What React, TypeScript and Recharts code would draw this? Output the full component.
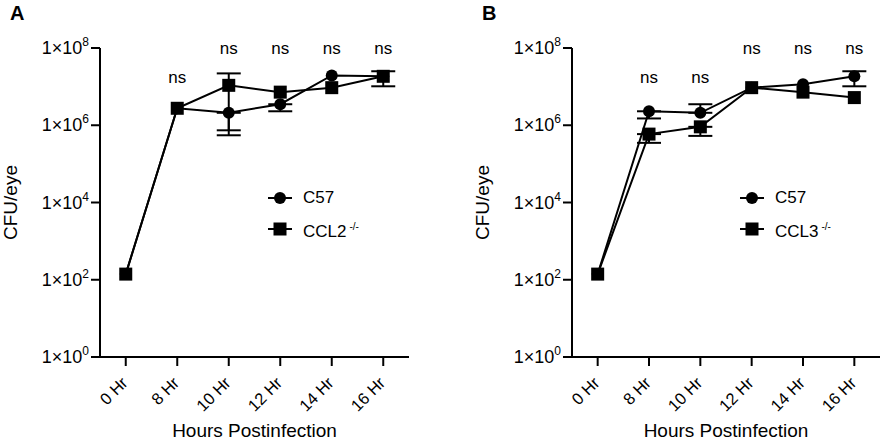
import React from "react";
import { LineChart, Line, XAxis, YAxis, ErrorBar, ReferenceDot } from "recharts";

const FONT = '"Liberation Sans", Arial, sans-serif';

const hours = ["0 Hr", "8 Hr", "10 Hr", "12 Hr", "14 Hr", "16 Hr"];
const yTicks = [1, 1e2, 1e4, 1e6, 1e8];

// Panel A: C57 vs CCL2-/-
const aC57 = [140, 2.75e6, 2.1e6, 3.5e6, 1.95e7, 1.85e7];
const aC57Lo = [null, null, 7.4e5, 2.3e6, null, null];
const aC57Hi = [null, null, 2.1e6, 3.5e6, null, null];
const aCCL2 = [140, 2.75e6, 1.08e7, 7.2e6, 9.4e6, 1.85e7];
const aCCL2Lo = [null, null, 5.5e5, null, null, 1.02e7];
const aCCL2Hi = [null, null, 2.2e7, null, null, 2.5e7];
const aNs = [null, 1.74e7, 1e8, 1e8, 1e8, 1e8];

// Panel B: C57 vs CCL3-/-
const bC57 = [140, 2.3e6, 2.1e6, 9.4e6, 1.15e7, 1.85e7];
const bC57Lo = [null, 1.5e6, 2.1e6, null, null, 1.02e7];
const bC57Hi = [null, 2.3e6, 3.5e6, null, null, 2.5e7];
const bCCL3 = [140, 5.9e5, 9.1e5, 9.4e6, 7.2e6, 5.2e6];
const bCCL3Lo = [null, 3.5e5, 5.3e5, null, null, null];
const bCCL3Hi = [null, 5.9e5, 9.1e5, null, null, null];
const bNs = [null, 1.74e7, 1.74e7, 1e8, 1e8, 1e8];

type Row = {
  i: number;
  c57: number;
  ko: number;
  c57Err: number[] | null;
  koErr: number[] | null;
};

function err(v: number, lo: number | null, hi: number | null) {
  if (lo == null || hi == null) return null;
  return [v - lo, hi - v];
}

function buildRows(
  c57: number[],
  c57Lo: (number | null)[],
  c57Hi: (number | null)[],
  ko: number[],
  koLo: (number | null)[],
  koHi: (number | null)[]
): Row[] {
  return hours.map((_, i) => ({
    i,
    c57: c57[i],
    ko: ko[i],
    c57Err: err(c57[i], c57Lo[i], c57Hi[i]),
    koErr: err(ko[i], koLo[i], koHi[i]),
  }));
}

const YTick = (props: any) => {
  const { x, y, payload } = props;
  const exp = Math.round(Math.log10(payload.value));
  return (
    <text x={x} y={y} dy={6} textAnchor="end" fontSize={18} fill="#000" fontFamily={FONT}>
      1×10
      <tspan dy={-8} fontSize={12}>
        {exp}
      </tspan>
    </text>
  );
};

const XTick = (props: any) => {
  const { x, y, payload } = props;
  const px = x + 3;
  const py = y + 16;
  return (
    <text
      x={px}
      y={py}
      textAnchor="end"
      transform={`rotate(-45 ${px} ${py})`}
      fontSize={16.5}
      fill="#000"
      fontFamily={FONT}
    >
      {hours[payload.value]}
    </text>
  );
};

const Circle = (props: any) => {
  const { cx, cy, index } = props;
  return <circle key={`c${index}`} cx={cx} cy={cy} r={6} fill="#000" />;
};

const Square = (props: any) => {
  const { cx, cy, index } = props;
  return <rect key={`s${index}`} x={cx - 6.5} y={cy - 6.5} width={13} height={13} fill="#000" />;
};

const LegendBox = ({ koName, left }: { koName: string; left: number }) => (
  <div
    style={{
      position: "absolute",
      left,
      top: 183,
      fontFamily: FONT,
      fontSize: 17,
      color: "#000",
      lineHeight: "29px",
    }}
  >
    <div style={{ display: "flex", alignItems: "center" }}>
      <svg width={24} height={14} style={{ marginRight: 11 }}>
        <line x1={0} y1={7} x2={24} y2={7} stroke="#000" strokeWidth={2} />
        <circle cx={12} cy={7} r={6} fill="#000" />
      </svg>
      <span>C57</span>
    </div>
    <div style={{ display: "flex", alignItems: "center" }}>
      <svg width={24} height={14} style={{ marginRight: 11 }}>
        <line x1={0} y1={7} x2={24} y2={7} stroke="#000" strokeWidth={2} />
        <rect x={5.5} y={0.5} width={13} height={13} fill="#000" />
      </svg>
      <span>
        {koName}
        <sup style={{ fontSize: 10, marginLeft: 3 }}>-/-</sup>
      </span>
    </div>
  </div>
);

type PanelProps = {
  rows: Row[];
  ns: (number | null)[];
  width: number;
  yAxisWidth: number;
  rightMargin: number;
  yLabelOffset: number;
};

function Panel({ rows, ns, width, yAxisWidth, rightMargin, yLabelOffset }: PanelProps) {
  return (
    <LineChart
      width={width}
      height={441}
      data={rows}
      margin={{ top: 48, right: rightMargin, bottom: 0, left: 0 }}
    >
      <XAxis
        dataKey="i"
        type="number"
        domain={[-0.5, 5.5]}
        ticks={[0, 1, 2, 3, 4, 5]}
        height={84}
        tick={<XTick />}
        tickSize={9}
        tickMargin={2}
        axisLine={{ stroke: "#000", strokeWidth: 2 }}
        tickLine={{ stroke: "#000", strokeWidth: 2 }}
        label={{
          value: "Hours Postinfection",
          position: "insideBottom",
          offset: 4,
          fill: "#000",
          fontSize: 19,
          fontFamily: FONT,
        }}
      />
      <YAxis
        scale="log"
        type="number"
        domain={[1, 1e8]}
        ticks={yTicks}
        allowDataOverflow
        width={yAxisWidth}
        tick={<YTick />}
        tickSize={9}
        tickMargin={2}
        axisLine={{ stroke: "#000", strokeWidth: 2 }}
        tickLine={{ stroke: "#000", strokeWidth: 2 }}
        label={{
          value: "CFU/eye",
          angle: -90,
          position: "insideLeft",
          offset: yLabelOffset,
          fill: "#000",
          fontSize: 19,
          fontFamily: FONT,
          style: { textAnchor: "middle" },
        }}
      />
      <Line
        dataKey="c57"
        stroke="#000"
        strokeWidth={2}
        dot={<Circle />}
        activeDot={false}
        isAnimationActive={false}
      >
        <ErrorBar dataKey={(d: Row) => d.c57Err} width={12} stroke="#000" strokeWidth={2} direction="y" />
      </Line>
      <Line
        dataKey="ko"
        stroke="#000"
        strokeWidth={2}
        dot={<Square />}
        activeDot={false}
        isAnimationActive={false}
      >
        <ErrorBar dataKey={(d: Row) => d.koErr} width={12} stroke="#000" strokeWidth={2} direction="y" />
      </Line>
      {ns.map((v, i) =>
        v == null ? null : (
          <ReferenceDot
            key={`ns${i}`}
            x={i}
            y={v}
            r={1}
            fill="none"
            stroke="none"
            ifOverflow="visible"
            label={{ value: "ns", position: "center", fill: "#000", fontSize: 17, fontFamily: FONT }}
          />
        )
      )}
    </LineChart>
  );
}

export default function App() {
  const rowsA = buildRows(aC57, aC57Lo, aC57Hi, aCCL2, aCCL2Lo, aCCL2Hi);
  const rowsB = buildRows(bC57, bC57Lo, bC57Hi, bCCL3, bCCL3Lo, bCCL3Hi);
  const letter: React.CSSProperties = {
    position: "absolute",
    fontFamily: FONT,
    fontWeight: "bold",
    fontSize: 20,
    lineHeight: "20px",
  };
  return (
    <div style={{ position: "absolute", left: 0, top: 0, width: 884, height: 441, background: "#fff" }}>
      <div style={{ position: "absolute", left: 0, top: 0 }}>
        <Panel rows={rowsA} ns={aNs} width={440} yAxisWidth={100} rightMargin={31} yLabelOffset={10} />
      </div>
      <div style={{ position: "absolute", left: 440, top: 0 }}>
        <Panel rows={rowsB} ns={bNs} width={444} yAxisWidth={132} rightMargin={4} yLabelOffset={42} />
      </div>
      <LegendBox koName="CCL2" left={268} />
      <LegendBox koName="CCL3" left={740} />
      <div style={{ ...letter, left: 10, top: 3 }}>A</div>
      <div style={{ ...letter, left: 482, top: 3 }}>B</div>
    </div>
  );
}
